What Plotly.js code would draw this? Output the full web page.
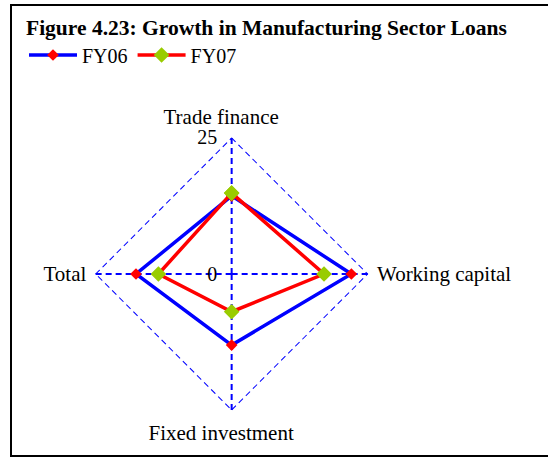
<!DOCTYPE html>
<html>
<head>
<meta charset="utf-8">
<script src="https://cdn.plot.ly/plotly-3.0.1.min.js"></script>
<style>
html,body{margin:0;padding:0;background:#fff;}
#chart{width:548px;height:458px;}
</style>
</head>
<body>
<div id="chart"></div>
<script>
const categories = ["Trade finance", "Working capital", "Fixed investment", "Total"];
const fy06 = [14.3, 21.9, 13.0, 17.5];
const fy07 = [14.8, 16.9, 6.9, 13.4];
const outerRing = [25, 25, 25, 25];
const radialTicks = [0, 25];
const seriesNames = ["FY06", "FY07"];

function closeLoop(a){ return a.concat([a[0]]); }

const cats = closeLoop(categories);
const serif = "Liberation Serif";
const pad = "\u00a0\u00a0\u00a0\u00a0";

const traces = [
  {
    type: "scatterpolar", r: closeLoop(outerRing), theta: cats, mode: "lines",
    line: {color: "#0000FF", width: 2, dash: "6px,4px"},
    showlegend: false, hoverinfo: "skip"
  },
  {
    type: "scatterpolar", r: closeLoop(fy06), theta: cats, mode: "lines+markers",
    name: seriesNames[0],
    line: {color: "#0000FF", width: 3.5},
    marker: {symbol: "diamond", color: "#FF0000", size: 9}
  },
  {
    type: "scatterpolar", r: closeLoop(fy07), theta: cats, mode: "lines+markers",
    name: seriesNames[1],
    line: {color: "#FF0000", width: 3.5},
    marker: {symbol: "diamond", color: "#99CC00", size: 12}
  }
];

const alias = {};
alias[categories[0]] = categories[0] + pad;
alias[categories[2]] = categories[2] + pad;

const layout = {
  width: 548, height: 458,
  margin: {l: 0, r: 0, t: 0, b: 0},
  paper_bgcolor: "#ffffff",
  font: {family: serif, size: 19, color: "#000"},
  title: {
    text: "<b>Figure 4.23: Growth in Manufacturing Sector Loans</b>",
    font: {family: serif, size: 21.5, color: "#000"},
    x: 26/548, xanchor: "left", xref: "paper",
    y: 1 - 27/458, yanchor: "middle", yref: "paper"
  },
  showlegend: true,
  legend: {
    orientation: "h", x: 24/548, xanchor: "left", y: 1 - 55/458, yanchor: "middle",
    font: {family: serif, size: 20, color: "#000"},
    bgcolor: "rgba(0,0,0,0)", itemwidth: 48, tracegroupgap: 0
  },
  polar: {
    domain: {x: [95/548, 368.3/548], y: [47.3/458, 320.7/458]},
    gridshape: "linear",
    bgcolor: "rgba(0,0,0,0)",
    radialaxis: {
      range: [0, 25], tickvals: radialTicks, ticktext: radialTicks.map(String),
      angle: 90, tickangle: 90, side: "counterclockwise",
      showline: false, showgrid: false,
      ticks: "outside", ticklen: 7, tickcolor: "rgba(0,0,0,0)",
      tickfont: {family: serif, size: 20, color: "#000"}
    },
    angularaxis: {
      direction: "clockwise", rotation: 90,
      categoryorder: "array", categoryarray: categories,
      labelalias: alias,
      showline: false, showgrid: true,
      gridcolor: "#0000FF", gridwidth: 2, griddash: "6px,4px",
      ticks: "outside", ticklen: 4, tickcolor: "rgba(0,0,0,0)",
      tickfont: {family: serif, size: 21, color: "#000"}
    }
  },
  shapes: [
    {type: "rect", xref: "paper", yref: "paper",
     x0: 11/548, x1: 1.05, y0: 2/458, y1: 1 - 5/458,
     line: {color: "#000", width: 2}, fillcolor: "rgba(0,0,0,0)"}
  ]
};

Plotly.newPlot("chart", traces, layout, {displayModeBar: false, staticPlot: true});
</script>
</body>
</html>
